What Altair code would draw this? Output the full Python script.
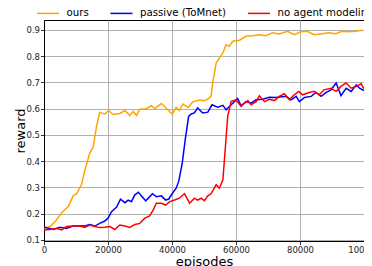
import altair as alt
import pandas as pd

series_names = ["ours", "passive (ToMnet)", "no agent modeling"]
series_colors = ["#FFA500", "#0000FF", "#FF0000"]

ours_ep = [0, 1900, 3900, 5500, 7600, 9100, 10200, 11700, 12800, 14300, 15400, 16400, 17400, 19000,
           20200, 21600, 23700, 25300, 26800, 27900, 28900, 29900, 32000, 33600, 34600, 36700, 38200,
           40100, 41300, 42300, 43400, 45000, 46500, 48600, 50000, 51200, 52200, 52700, 53800, 54800,
           55900, 56900, 57900, 59000, 61100, 63100, 65200, 67300, 69400, 71400, 73500, 76100, 78200,
           80200, 82300, 84400, 87000, 89000, 91100, 93200, 95300, 97400, 99500]
ours_val = [.145, .151, .176, .204, .227, .268, .276, .31, .367, .431, .456, .532, .586, .58,
            .593, .578, .582, .593, .574, .59, .574, .598, .6, .612, .6, .62, .602,
            .58, .605, .593, .618, .605, .626, .633, .63, .637, .647, .698, .774, .793,
            .813, .844, .838, .857, .861, .876, .878, .882, .878, .889, .885, .895, .882,
            .893, .895, .882, .886, .889, .886, .895, .893, .895, .899]

passive_ep = [0, 2900, 5000, 7000, 9100, 11200, 12700, 14300, 15900, 17400, 19000, 20000, 21100, 22700,
              23900, 25300, 26300, 27300, 28400, 29500, 30400, 31800, 33900, 35100, 36700, 38000, 39000,
              40100, 41300, 42100, 43200, 44200, 45200, 46000, 47000, 48000, 49600, 51200, 52500, 54300,
              55900, 56900, 58500, 59500, 60500, 61600, 63100, 64700, 66300, 68400, 70400, 72500, 75600,
              77200, 78800, 79800, 81400, 83500, 85000, 86600, 88200, 89700, 91300, 92800, 94400, 96000,
              97600, 98600, 100000]
passive_val = [.148, .14, .148, .144, .153, .154, .153, .159, .153, .163, .172, .183, .208, .225,
               .255, .242, .252, .246, .272, .282, .268, .249, .276, .265, .268, .252, .256,
               .277, .297, .323, .393, .488, .571, .58, .584, .603, .584, .587, .615, .606,
               .613, .596, .615, .627, .639, .611, .627, .621, .634, .636, .644, .643, .647,
               .634, .647, .627, .643, .647, .662, .647, .662, .672, .698, .65, .678, .666,
               .691, .678, .669]

noagent_ep = [0, 1900, 3900, 5500, 7000, 9100, 11200, 12700, 14300, 15900, 17400, 19000, 20600, 22100,
              23700, 25300, 26800, 28400, 29900, 31500, 33000, 34100, 35100, 36700, 38000, 39300, 40800,
              42300, 43900, 45500, 47000, 48000, 49100, 50100, 51200, 52200, 53800, 54800, 55900, 56700,
              57400, 58500, 60000, 61600, 62600, 63700, 64700, 66300, 67300, 68900, 70400, 72000, 73500,
              75100, 76700, 78200, 79600, 80800, 82900, 84400, 86000, 87500, 89700, 91300, 92800, 94400,
              96000, 97600, 99100, 100000]
noagent_val = [.138, .14, .144, .138, .151, .153, .153, .148, .157, .151, .147, .148, .151, .14,
               .157, .153, .148, .159, .163, .183, .192, .214, .24, .24, .233, .246, .252,
               .259, .276, .24, .259, .252, .259, .25, .268, .276, .31, .297, .329, .456,
               .571, .628, .634, .609, .621, .631, .615, .627, .649, .627, .636, .631, .647,
               .657, .634, .653, .666, .653, .662, .666, .653, .672, .678, .666, .685, .698,
               .678, .685, .695, .676]

x_ticks = [0, 20000, 40000, 60000, 80000, 100000]
y_ticks = [0.1, 0.2, 0.3, 0.4, 0.5, 0.6, 0.7, 0.8, 0.9]

rows = []
for name, eps, vals in [(series_names[0], ours_ep, ours_val),
                        (series_names[1], passive_ep, passive_val),
                        (series_names[2], noagent_ep, noagent_val)]:
    assert len(eps) == len(vals)
    for e, v in zip(eps, vals):
        rows.append({"series": name, "episodes": e, "reward": v})
df = pd.DataFrame(rows)

FONT = "DejaVu Sans"

chart = alt.Chart(df).mark_line(strokeWidth=1.5, clip=True).encode(
    x=alt.X("episodes:Q",
            scale=alt.Scale(domain=[0, 100000], nice=False, zero=False),
            axis=alt.Axis(values=x_ticks, format="d", title="episodes",
                          labelFlush=False, labelOverlap=False, labelPadding=0.5,
                          titleY=24, titleBaseline="alphabetic")),
    y=alt.Y("reward:Q",
            scale=alt.Scale(domain=[0.096, 0.938], nice=False, zero=False),
            axis=alt.Axis(values=y_ticks, format=".1f", title="reward",
                          labelFlush=False, labelOverlap=False, labelPadding=1,
                          titleX=-20, titleY=110.5, titleAngle=-90,
                          titleBaseline="alphabetic", titleAlign="center")),
    color=alt.Color("series:N",
                    scale=alt.Scale(domain=series_names, range=series_colors),
                    sort=series_names,
                    legend=alt.Legend(title=None, orient="none", direction="horizontal",
                                      legendX=-8, legendY=-19, symbolType="stroke",
                                      symbolSize=484, symbolStrokeWidth=1.5,
                                      labelFontSize=10.2, labelFont=FONT, labelColor="#000",
                                      labelOffset=6.5, columnPadding=18.5, padding=0)),
).properties(
    width=320, height=221,
    autosize=alt.AutoSizeParams(type="none"),
    padding={"left": 36, "top": 12, "right": 0, "bottom": 25},
).configure_view(
    stroke="#000", strokeWidth=1
).configure_axis(
    domainColor="#000", domainWidth=1,
    tickColor="#000", tickSize=3.5, tickWidth=0.8,
    gridColor="#b0b0b0", gridWidth=1,
    labelFont=FONT, labelFontSize=8.5, labelColor="#222",
    titleFont=FONT, titleFontSize=13, titleFontWeight="normal", titleColor="#000",
)

chart.save("out.html", embed_options={"renderer": "svg", "actions": False})
